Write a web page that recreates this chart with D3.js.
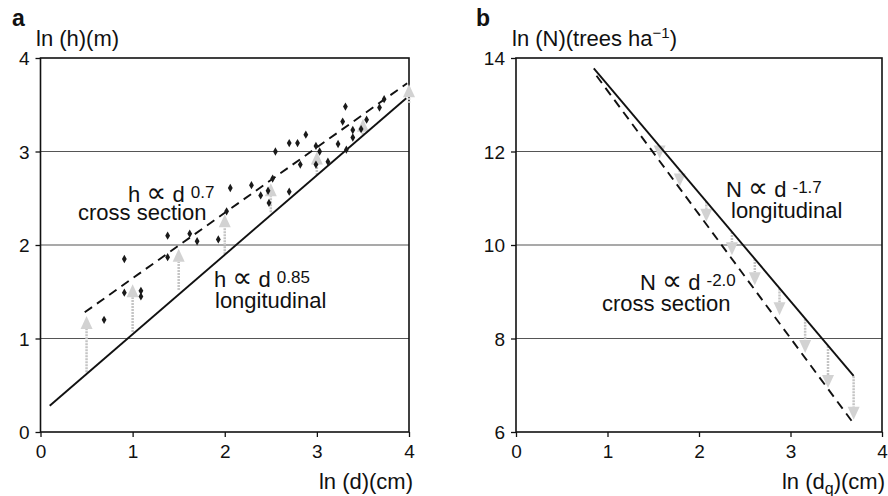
<!DOCTYPE html>
<html>
<head>
<meta charset="utf-8">
<script src="https://cdn.jsdelivr.net/npm/d3@7"></script>
<style>
  body { margin: 0; background: #fff; }
  svg text { font-family: "Liberation Sans", Arial, Helvetica, sans-serif; fill: #111; }
</style>
</head>
<body>
<svg id="chart" width="888" height="496"></svg>
<script>
// ---- panel a : ln(h) vs ln(d)
var aXTicks = [0, 1, 2, 3, 4];
var aYTicks = [0, 1, 2, 3, 4];
var aLongX = [0.1, 3.97], aLongY = [0.28, 3.57];      // h ~ d^0.85 longitudinal
var aCrossX = [0.48, 3.98], aCrossY = [1.28, 3.73];   // h ~ d^0.7 cross section
var aPtsX = [0.69, 0.91, 0.91, 1.09, 1.09, 1.38, 1.38, 1.62, 1.70, 1.93, 2.02, 2.06, 2.29, 2.39, 2.47, 2.48, 2.52, 2.55, 2.70, 2.70,
             2.79, 2.82, 2.88, 2.99, 3.03, 2.99, 3.12, 3.23, 3.32, 3.28, 3.31, 3.39, 3.39, 3.48, 3.54, 3.68, 3.73];
var aPtsY = [1.20, 1.85, 1.49, 1.51, 1.45, 1.87, 2.10, 2.12, 2.04, 2.06, 2.36, 2.61, 2.64, 2.53, 2.58, 2.45, 2.71, 3.00, 2.57, 3.09,
             3.09, 2.86, 3.18, 3.06, 3.00, 2.86, 2.89, 3.08, 3.02, 3.32, 3.48, 3.15, 3.23, 3.24, 3.34, 3.47, 3.56];
var aArrowX = [0.5, 1.0, 1.5, 2.0, 2.5, 3.0, 3.5, 4.0];
var aArrowFrom = [0.64, 1.07, 1.52, 1.90, 2.35, 2.75, 3.18, 3.52];
var aArrowTo = [1.24, 1.58, 1.96, 2.33, 2.66, 3.00, 3.35, 3.72];

// ---- panel b : ln(N) vs ln(dq)
var bXTicks = [0, 1, 2, 3, 4];
var bYTicks = [6, 8, 10, 12, 14];
var bLongX = [0.85, 3.69], bLongY = [13.78, 7.20];    // N ~ d^-1.7 longitudinal
var bCrossX = [0.88, 3.69], bCrossY = [13.62, 6.18];  // N ~ d^-2.0 cross section
var bArrowX = [1.57, 1.79, 2.08, 2.36, 2.61, 2.88, 3.16, 3.41, 3.69];
var bArrowFrom = [12.10, 11.60, 10.93, 10.28, 9.70, 9.07, 8.42, 7.84, 7.19];
var bArrowTo = [11.85, 11.25, 10.50, 9.78, 9.14, 8.50, 7.69, 6.94, 6.26];

var svg = d3.select("#chart");

function drawPanel(p) {
	var g = svg.append("g");
	var x = d3.scaleLinear().domain([0, 4]).range(p.xr);
	var y = d3.scaleLinear().domain(p.yd).range([432, 58]);

	// grid lines
	g.selectAll("line.grid").data(p.yTicks.slice(1, -1)).enter().append("line")
		.attr("x1", p.xr[0]).attr("x2", p.xr[1])
		.attr("y1", function(d) { return y(d); }).attr("y2", function(d) { return y(d); })
		.attr("stroke", "#555").attr("stroke-width", 1.2);

	// axes with ticks
	var fmt = d3.format("d");
	var xa = g.append("g").attr("transform", "translate(0,432)")
		.call(d3.axisBottom(x).tickValues(p.xTicks).tickFormat(fmt).tickSize(5).tickPadding(7));
	var ya = g.append("g").attr("transform", "translate(" + p.xr[0] + ",0)")
		.call(d3.axisLeft(y).tickValues(p.yTicks).tickFormat(fmt).tickSize(5).tickPadding(6));
	[xa, ya].forEach(function(a) {
		a.select(".domain").remove();
		a.selectAll("line").attr("stroke", "#111").attr("stroke-width", 1.3);
		a.selectAll("text").attr("font-size", 19).attr("fill", "#111")
			.attr("font-family", "Liberation Sans, Arial, sans-serif");
	});
	xa.selectAll("text").attr("dy", "0.75em");
	ya.selectAll("text").attr("dy", "0.36em");

	// frame
	g.append("rect").attr("x", p.xr[0]).attr("y", 58)
		.attr("width", p.xr[1] - p.xr[0]).attr("height", 374)
		.attr("fill", "none").attr("stroke", "#111").attr("stroke-width", 1.6);

	// gray arrows
	var arr = g.append("g");
	p.arrows.x.forEach(function(v, i) {
		var px = x(v), y0 = y(p.arrows.from[i]), y1 = y(p.arrows.to[i]);
		var dir = y1 < y0 ? 1 : -1;   // 1 = pointing up
		var base = y1 + dir * 13;
		if ((base - y0) * dir < 0) {
			arr.append("line").attr("x1", px).attr("x2", px).attr("y1", y0).attr("y2", base)
				.attr("stroke", "#c4c4c4").attr("stroke-width", 2.5).attr("stroke-dasharray", "2,1");
		}
		arr.append("path")
			.attr("d", "M" + px + "," + y1 + "L" + (px - 6) + "," + base + "L" + (px + 6) + "," + base + "Z")
			.attr("fill", "#d2d2d2");
	});

	// fitted lines
	var line = d3.line().x(function(d) { return x(d[0]); }).y(function(d) { return y(d[1]); });
	g.append("path").datum(d3.zip(p.longX, p.longY)).attr("d", line)
		.attr("fill", "none").attr("stroke", "#111").attr("stroke-width", 1.9);
	g.append("path").datum(d3.zip(p.crossX, p.crossY)).attr("d", line)
		.attr("fill", "none").attr("stroke", "#111").attr("stroke-width", 1.9)
		.attr("stroke-dasharray", "9,6");

	// data points
	if (p.ptsX) {
		g.selectAll("path.pt").data(d3.zip(p.ptsX, p.ptsY)).enter().append("path")
			.attr("d", d3.symbol().type(d3.symbolDiamond).size(20))
			.attr("transform", function(d) { return "translate(" + x(d[0]) + "," + y(d[1]) + ")"; })
			.attr("fill", "#1a1a1a");
	}
	return g;
}

function label(x, y, txt, size, weight) {
	return svg.append("text").attr("x", x).attr("y", y).attr("font-size", size || 22)
		.attr("font-weight", weight || "normal").text(txt);
}

// "h ∝ d^0.7" style label, the ∝ taken from DejaVu and enlarged
function powerLabel(x, y, a, exp) {
	var t = label(x, y, a + " ");
	t.append("tspan").attr("font-family", "DejaVu Sans").attr("font-size", 28).text("\u221D");
	t.append("tspan").text(" d ");
	t.append("tspan").attr("font-size", 17).attr("dy", -4).text(exp);
	return t;
}

drawPanel({ xr: [40.5, 409], yd: [0, 4], xTicks: aXTicks, yTicks: aYTicks,
	longX: aLongX, longY: aLongY, crossX: aCrossX, crossY: aCrossY,
	ptsX: aPtsX, ptsY: aPtsY, arrows: { x: aArrowX, from: aArrowFrom, to: aArrowTo } });
drawPanel({ xr: [516, 882], yd: [6, 14], xTicks: bXTicks, yTicks: bYTicks,
	longX: bLongX, longY: bLongY, crossX: bCrossX, crossY: bCrossY,
	arrows: { x: bArrowX, from: bArrowFrom, to: bArrowTo } });

// panel letters and axis titles
label(12, 26, "a", 23, "bold");
label(476, 26, "b", 23, "bold");
label(36, 46, "ln (h)(m)");
var tb = label(512, 46, "ln (N)(trees ha");
tb.append("tspan").attr("font-size", 15).attr("dy", -8).text("\u22121");
tb.append("tspan").attr("dy", 8).text(")");
label(413, 489, "ln (d)(cm)").attr("text-anchor", "end");
var xb = label(885, 489, "ln (d").attr("text-anchor", "end");
xb.append("tspan").attr("font-size", 16).attr("dy", 5).text("q");
xb.append("tspan").attr("dy", -5).text(")(cm)");

// annotations
powerLabel(128, 202, "h", "0.7");
label(78, 220, "cross section");
powerLabel(214, 287, "h", "0.85");
label(215, 308, "longitudinal");
powerLabel(726, 197, "N", "-1.7");
label(731, 218, "longitudinal");
powerLabel(640, 290, "N", "-2.0");
label(602, 311, "cross section");
</script>
</body>
</html>
